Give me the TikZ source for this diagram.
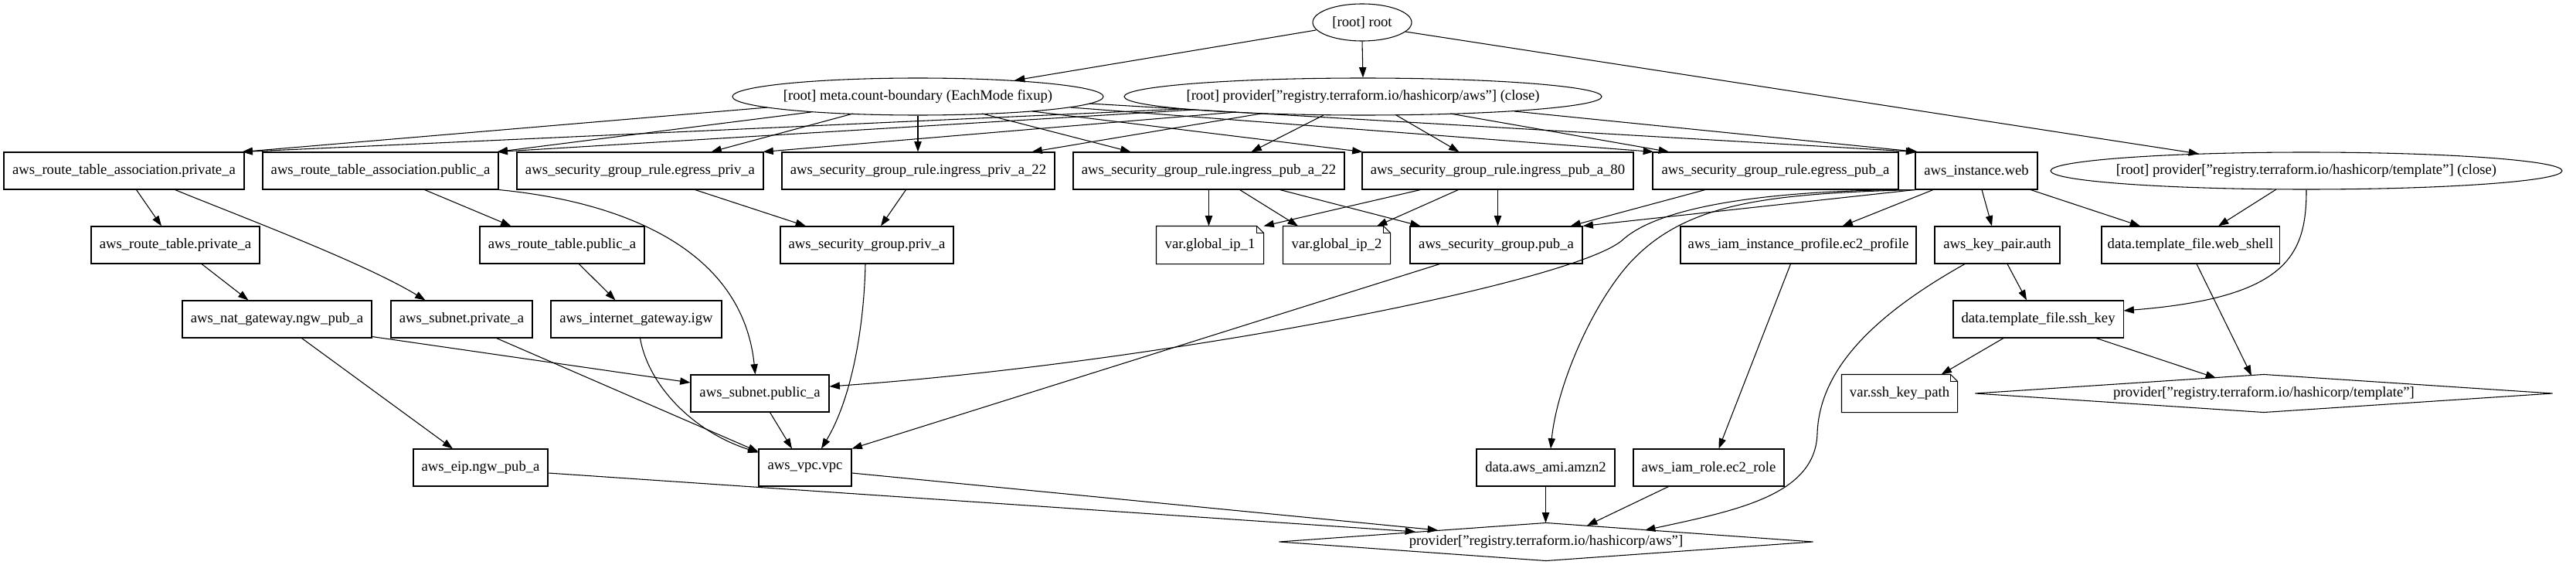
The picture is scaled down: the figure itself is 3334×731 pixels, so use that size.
\documentclass[tikz,border=0pt]{standalone}
\usepackage{fontspec}
\setmainfont{Liberation Serif}
\usetikzlibrary{arrows.meta,calc}
\newcommand\notebox[1]{%
  \draw (#1.north west) -- ($(#1.north east)+(-9,0)$) -- ($(#1.north east)+(0,9)$) -- (#1.south east) -- (#1.south west) -- cycle;
  \draw ($(#1.north east)+(-9,0)$) -- ($(#1.north east)+(-9,9)$) -- ($(#1.north east)+(0,9)$);}
\newcommand\diam[1]{\draw (#1.west) -- (#1.north) -- (#1.east) -- (#1.south) -- cycle;}
\begin{document}
\begin{tikzpicture}[x=0.75pt,y=-0.75pt,line width=0.8pt,
  every node/.style={font=\fontsize{14pt}{17pt}\selectfont,inner sep=0pt},
  box/.style={draw,rectangle,minimum height=36pt,minimum width={#1*0.75pt}},
  lbl/.style={rectangle,minimum height=36pt,minimum width={#1*0.75pt}},
  e/.style={-{Triangle[length=10pt,width=7pt]}}]
\useasboundingbox (0,0) rectangle (3334,731);
% ---- nodes
\node[lbl=128] (root) at (1763,29) {[root] root};
\draw (root) ellipse [x radius=64,y radius=24];
\node[lbl=480] (meta) at (1188,125) {[root] meta.count-boundary (EachMode fixup)};
\draw (meta) ellipse [x radius=240,y radius=24];
\node[lbl=618] (paws) at (1764,125) {[root] provider["registry.terraform.io/hashicorp/aws"] (close)};
\draw (paws) ellipse [x radius=309,y radius=24];

\node[box=311] (rtapriv) at (160.5,221) {aws\_route\_table\_association.private\_a};
\node[box=305] (rtapub) at (492.5,221) {aws\_route\_table\_association.public\_a};
\node[box=319] (egpriv) at (828.5,221) {aws\_security\_group\_rule.egress\_priv\_a};
\node[box=353] (ingpriv22) at (1188.5,221) {aws\_security\_group\_rule.ingress\_priv\_a\_22};
\node[box=351] (ingpub22) at (1564.5,221) {aws\_security\_group\_rule.ingress\_pub\_a\_22};
\node[box=351] (ingpub80) at (1938.5,221) {aws\_security\_group\_rule.ingress\_pub\_a\_80};
\node[box=318] (egpub) at (2298,221) {aws\_security\_group\_rule.egress\_pub\_a};
\node[box=158] (web) at (2558,221) {aws\_instance.web};
\node[lbl=662] (ptpl) at (2985,221) {[root] provider["registry.terraform.io/hashicorp/template"] (close)};
\draw (ptpl) ellipse [x radius=331,y radius=24];

\node[box=218] (rtpriv) at (227,317) {aws\_route\_table.private\_a};
\node[box=213] (rtpub) at (727.5,317) {aws\_route\_table.public\_a};
\node[box=224] (sgpriv) at (1122,317) {aws\_security\_group.priv\_a};
\node[lbl=138] (gip1) at (1566,317) {var.global\_ip\_1};
\notebox{gip1}
\node[lbl=138] (gip2) at (1730,317) {var.global\_ip\_2};
\notebox{gip2}
\node[box=223] (sgpub) at (1936.5,317) {aws\_security\_group.pub\_a};
\node[box=305] (profile) at (2327.5,317) {aws\_iam\_instance\_profile.ec2\_profile};
\node[box=162] (keypair) at (2585,317) {aws\_key\_pair.auth};
\node[box=230] (webshell) at (2835,317) {data.template\_file.web\_shell};

\node[box=245] (nat) at (358.5,413) {aws\_nat\_gateway.ngw\_pub\_a};
\node[box=183] (subpriv) at (597.5,413) {aws\_subnet.private\_a};
\node[box=221] (igw) at (823.5,413) {aws\_internet\_gateway.igw};
\node[box=220] (sshkey) at (2638,413) {data.template\_file.ssh\_key};

\node[box=179] (subpub) at (983.5,509) {aws\_subnet.public\_a};
\node[lbl=149] (sshpath) at (2458.5,509) {var.ssh\_key\_path};
\notebox{sshpath}
\node[lbl=746] (ptdia) at (2930,509) {provider["registry.terraform.io/hashicorp/template"]};
\diam{ptdia}

\node[box=174] (eip) at (622,605) {aws\_eip.ngw\_pub\_a};
\node[box=120] (vpc) at (1042,605) {aws\_vpc.vpc};
\node[box=179] (ami) at (2000.5,605) {data.aws\_ami.amzn2};
\node[box=195] (role) at (2211.5,605) {aws\_iam\_role.ec2\_role};

\node[lbl=690] (padia) at (2001,701) {provider["registry.terraform.io/hashicorp/aws"]};
\diam{padia}

% ---- edges: root
\draw[e] ($(root)+(-60,10)$) -- ($(meta)+(125,-21)$);
\draw[e] (root.south) -- (paws.north);
\draw[e] ($(root)+(56,12)$) -- ($(ptpl)+(-139,-22)$);
% meta
\draw[e] ($(meta)+(-195,14)$) -- ($(rtapriv.north)+(153,0)$);
\draw[e] ($(meta)+(-138,20)$) -- ($(rtapub.north)+(151,0)$);
\draw[e] ($(meta)+(-84,22)$) -- ($(egpriv.north)+(92,0)$);
\draw[e] (meta.south) -- (meta.south |- ingpriv22.north);
\draw[e] ($(meta)+(83,22)$) -- ($(ingpub22.north)+(-101,0)$);
\draw[e] ($(meta)+(148,19)$) -- ($(ingpub80.north)+(-175,0)$);
\draw[e] ($(meta)+(198,14)$) -- ($(egpub.north)+(-158,0)$);
\draw[e] ($(meta)+(222,9)$) -- ($(web.north)+(-78,0)$);
% provider aws (close)
\draw[e] ($(paws)+(-234,16)$) -- ($(rtapriv.north)+(153,0)$);
\draw[e] ($(paws)+(-219,17)$) -- ($(rtapub.north)+(151,0)$);
\draw[e] ($(paws)+(-164,20)$) -- ($(egpriv.north)+(159,0)$);
\draw[e] ($(paws)+(-132,22)$) -- ($(ingpriv22.north)+(147,0)$);
\draw[e] ($(paws)+(-51,24)$) -- ($(ingpub22.north)+(55,0)$);
\draw[e] ($(paws)+(43,24)$) -- ($(ingpub80.north)+(-50,0)$);
\draw[e] ($(paws)+(113,22)$) -- ($(egpub.north)+(-138,0)$);
\draw[e] ($(paws)+(196,19)$) -- ($(web.north)+(-76,0)$);
% provider template (close)
\draw[e] ($(ptpl)+(-39,24)$) -- ($(webshell.north)+(36,0)$);
\draw[e] (ptpl.south) .. controls ($(ptpl.south)+(0,85)$) and ($(sshkey.east)+(212,-28)$) .. ($(sshkey.east)+(0,-11)$);
% aws_instance.web
\draw[e] ($(web.south)+(-56,0)$) -- ($(profile.north)+(57,0)$);
\draw[e] ($(web.south)+(7,0)$) -- ($(keypair.north)+(-7,0)$);
\draw[e] ($(web.south)+(70,0)$) -- ($(webshell.north)+(-65,0)$);
\draw[e] (web.south west) -- (sgpub.north east);
\draw[e] (web.south west) .. controls ($(web.south west)+(-179,0)$) and ($(subpub.east)+(1077,-244)$) .. ($(subpub.east)+(1027,-199)$) .. controls ($(subpub.east)+(967,-144)$) and ($(subpub.east)+(427,-39)$) .. ($(subpub.east)+(0,-9)$);
\draw[e] (web.south west) .. controls ($(web.south west)+(-199,5)$) and ($(ami.north)+(179.5,-316)$) .. ($(ami.north)+(109.5,-241)$) .. controls ($(ami.north)+(59.5,-186)$) and ($(ami.north)+(14.5,-81)$) .. ($(ami.north)+(6.5,0)$);
% security group rules
\draw[e] ($(egpub.south)+(-91,0)$) -- ($(sgpub.north)+(96,0)$);
\draw[e] (ingpub22.south) -- (ingpub22.south |- gip1.north);
\draw[e] ($(ingpub22.south)+(40,0)$) -- ($(gip2.north)+(-50,0)$);
\draw[e] ($(ingpub22.south)+(92,0)$) -- ($(sgpub.north)+(-98,0)$);
\draw[e] ($(ingpub80.south)+(-100,0)$) -- (gip1.north east);
\draw[e] ($(ingpub80.south)+(-51,0)$) -- ($(gip2.north)+(52,0)$);
\draw[e] (ingpub80.south) -- (ingpub80.south |- sgpub.north);
\draw[e] ($(egpriv.south)+(71,0)$) -- ($(sgpriv.north)+(-79,0)$);
\draw[e] ($(ingpriv22.south)+(-16,0)$) -- ($(sgpriv.north)+(18,0)$);
\draw[e] ($(sgpriv.south)+(-2,0)$) .. controls ($(sgpriv.south)+(-4,90)$) and ($(vpc.north)+(58,-61)$) .. ($(vpc.north)+(21,0)$);
\draw[e] ($(sgpub.south)+(-73,0)$) -- (vpc.north east);
% route tables and network
\draw[e] ($(rtapriv.south)+(16,0)$) -- ($(rtpriv.north)+(-18,0)$);
\draw[e] ($(rtapriv.south)+(66,0)$) .. controls ($(rtapriv.south)+(139,30)$) and ($(subpriv.north)+(-127,-49)$) .. ($(subpriv.north)+(-47,0)$);
\draw[e] ($(rtapub.south)+(57,0)$) -- ($(rtpub.north)+(-66,0)$);
\draw[e] (rtapub.south east) .. controls ($(rtapub.south east)+(155,15)$) and ($(subpub.north)+(-23,-165)$) .. ($(subpub.north)+(-6,0)$);
\draw[e] ($(rtpriv.south)+(34,0)$) -- ($(nat.north)+(-37,0)$);
\draw[e] ($(rtpub.south)+(22,0)$) -- ($(igw.north)+(-27,0)$);
\draw[e] ($(nat.south east)+(0,-2)$) -- ($(subpub.west)+(0,-14)$);
\draw[e] ($(nat.south)+(32,0)$) -- ($(eip.north)+(-36,0)$);
\draw[e] ($(subpriv.south)+(45,0)$) -- ($(vpc.north west)+(0,4)$);
\draw[e] ($(igw.south)+(5,0)$) .. controls ($(igw.south)+(16,63)$) and ($(vpc.north west)+(-82,-21)$) .. ($(vpc.north west)+(0,5)$);
\draw[e] ($(subpub.south)+(13,0)$) -- ($(vpc.north)+(-17,0)$);
% to provider aws
\draw[e] ($(eip.east)+(0,7)$) -- ($(padia)+(-169,-13)$);
\draw[e] ($(vpc.east)+(0,7)$) -- ($(padia)+(-140,-15)$);
\draw[e] (ami.south) -- (ami.south |- padia.north);
\draw[e] ($(role.south)+(-52,0)$) -- ($(padia)+(53,-21)$);
\draw[e] ($(keypair.south)+(-42,0)$) .. controls ($(keypair.south)+(-165,69)$) and ($(keypair.south)+(-230,139)$) .. ($(keypair.south)+(-233,219)$) .. controls ($(padia)+(349,-61)$) and ($(padia)+(249,-41)$) .. ($(padia)+(128,-15)$);
% iam, keys, templates
\draw[e] ($(profile.south)+(-10,0)$) -- ($(role.north)+(13,0)$);
\draw[e] ($(keypair.south)+(13,0)$) -- ($(sshkey.north)+(-15,0)$);
\draw[e] ($(sshkey.south)+(-45,0)$) -- ($(sshpath.north)+(54,0)$);
\draw[e] ($(sshkey.south)+(75,0)$) -- ($(ptdia)+(-62,-20)$);
\draw[e] ($(webshell.south)+(8,0)$) -- ($(ptdia)+(-16,-23)$);
\end{tikzpicture}
\end{document}
